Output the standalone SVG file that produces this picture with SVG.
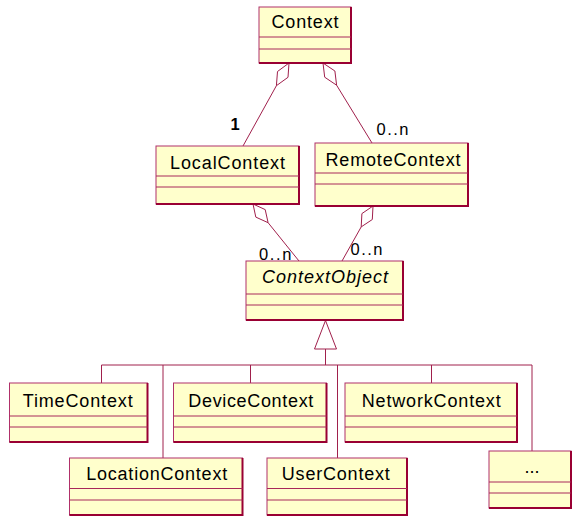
<svg xmlns="http://www.w3.org/2000/svg" width="572" height="516" viewBox="0 0 572 516">
<style>
.box{fill:#FFFFCC;stroke:#B0306A;stroke-width:1}
.sh{fill:none;stroke:#990033;stroke-width:2}
.sep{stroke:#A8285A;stroke-width:1}
.lbl{font-family:"Liberation Sans",Arial,sans-serif;font-size:18px;fill:#000;text-anchor:middle}
.it{font-style:italic}
.mul{font-family:"Liberation Sans",Arial,sans-serif;font-size:16.5px;fill:#000}
.ln{fill:none;stroke:#A0204C;stroke-width:1}
.dia{fill:#fff;stroke:#A0204C;stroke-width:1}
</style>
<rect width="572" height="516" fill="#fff"/>
<g id="connectors">
  <polygon class="dia" points="289,63 288,77.3 276.4,85.7 277.5,71.5"/>
  <line class="ln" x1="276.4" y1="85.7" x2="243" y2="146"/>
  <polygon class="dia" points="323,63 334.9,71 336.6,85.2 324.7,77.2"/>
  <line class="ln" x1="336.6" y1="85.2" x2="372" y2="143"/>
  <polygon class="dia" points="253,204 265.2,209.6 268.1,222.7 255.8,217.1"/>
  <line class="ln" x1="268.1" y1="222.7" x2="299" y2="261"/>
  <polygon class="dia" points="373,206 372.3,219.5 361.2,226.9 361.9,213.6"/>
  <line class="ln" x1="361.2" y1="226.9" x2="342" y2="261"/>
  <polygon class="dia" points="325.5,320.5 336.5,349 314.5,349"/>
  <line class="ln" x1="325.5" y1="349" x2="325.5" y2="365"/>
  <line class="ln" x1="101.5" y1="365" x2="532" y2="365"/>
  <line class="ln" x1="101.5" y1="365" x2="101.5" y2="383"/>
  <line class="ln" x1="163" y1="365" x2="163" y2="458"/>
  <line class="ln" x1="250.5" y1="365" x2="250.5" y2="383"/>
  <line class="ln" x1="337.5" y1="365" x2="337.5" y2="458"/>
  <line class="ln" x1="431.5" y1="365" x2="431.5" y2="383"/>
  <line class="ln" x1="532" y1="365" x2="532" y2="451"/>
  <text class="mul" x="230.5" y="130" font-weight="bold" font-size="17">1</text>
  <text class="mul" x="376.5" y="135" textLength="32" lengthAdjust="spacing">0..n</text>
  <text class="mul" x="259" y="260" textLength="32.5" lengthAdjust="spacing">0..n</text>
  <text class="mul" x="350.5" y="255" textLength="32" lengthAdjust="spacing">0..n</text>
</g>
<g id="Context">
  <rect class="box" x="259" y="7" width="92" height="56"/>
  <path class="sh" d="M351,7V63H259"/>
  <line class="sep" x1="259" y1="37" x2="351" y2="37"/><line class="sep" x1="259" y1="49" x2="351" y2="49"/>
  <text class="lbl" x="305" y="28" textLength="67" lengthAdjust="spacing">Context</text>
</g>
<g id="LocalContext">
  <rect class="box" x="156" y="146" width="143" height="58"/>
  <path class="sh" d="M299,146V204H156"/>
  <line class="sep" x1="156" y1="176" x2="299" y2="176"/><line class="sep" x1="156" y1="187" x2="299" y2="187"/>
  <text class="lbl" x="227.5" y="169" textLength="115" lengthAdjust="spacing">LocalContext</text>
</g>
<g id="RemoteContext">
  <rect class="box" x="315" y="143" width="153" height="63"/>
  <path class="sh" d="M468,143V206H315"/>
  <line class="sep" x1="315" y1="173" x2="468" y2="173"/><line class="sep" x1="315" y1="184" x2="468" y2="184"/>
  <text class="lbl" x="393" y="166" textLength="135" lengthAdjust="spacing">RemoteContext</text>
</g>
<g id="ContextObject">
  <rect class="box" x="246" y="261" width="157" height="59"/>
  <path class="sh" d="M403,261V320H246"/>
  <line class="sep" x1="246" y1="294" x2="403" y2="294"/><line class="sep" x1="246" y1="305" x2="403" y2="305"/>
  <text class="lbl it" x="325" y="283" textLength="126" lengthAdjust="spacing">ContextObject</text>
</g>
<g id="TimeContext">
  <rect class="box" x="9.5" y="383" width="138" height="59"/>
  <path class="sh" d="M147.5,383V442H9.5"/>
  <line class="sep" x1="9.5" y1="416" x2="147.5" y2="416"/><line class="sep" x1="9.5" y1="427" x2="147.5" y2="427"/>
  <text class="lbl" x="77.7" y="407" textLength="110" lengthAdjust="spacing">TimeContext</text>
</g>
<g id="DeviceContext">
  <rect class="box" x="173.5" y="383" width="153" height="59"/>
  <path class="sh" d="M326.5,383V442H173.5"/>
  <line class="sep" x1="173.5" y1="416" x2="326.5" y2="416"/><line class="sep" x1="173.5" y1="427" x2="326.5" y2="427"/>
  <text class="lbl" x="250.8" y="407" textLength="125" lengthAdjust="spacing">DeviceContext</text>
</g>
<g id="NetworkContext">
  <rect class="box" x="345" y="383" width="172" height="59"/>
  <path class="sh" d="M517,383V442H345"/>
  <line class="sep" x1="345" y1="416" x2="517" y2="416"/><line class="sep" x1="345" y1="427" x2="517" y2="427"/>
  <text class="lbl" x="431.2" y="407" textLength="139" lengthAdjust="spacing">NetworkContext</text>
</g>
<g id="LocationContext">
  <rect class="box" x="69.5" y="458" width="173" height="57"/>
  <path class="sh" d="M242.5,458V515H69.5"/>
  <line class="sep" x1="69.5" y1="488.5" x2="242.5" y2="488.5"/><line class="sep" x1="69.5" y1="500" x2="242.5" y2="500"/>
  <text class="lbl" x="156.7" y="480" textLength="141" lengthAdjust="spacing">LocationContext</text>
</g>
<g id="UserContext">
  <rect class="box" x="267" y="458" width="140" height="57"/>
  <path class="sh" d="M407,458V515H267"/>
  <line class="sep" x1="267" y1="488.5" x2="407" y2="488.5"/><line class="sep" x1="267" y1="500" x2="407" y2="500"/>
  <text class="lbl" x="335.8" y="480" textLength="108" lengthAdjust="spacing">UserContext</text>
</g>
<g id="More">
  <rect class="box" x="489" y="451" width="82" height="57"/>
  <path class="sh" d="M571,451V508H489"/>
  <line class="sep" x1="489" y1="482" x2="571" y2="482"/><line class="sep" x1="489" y1="493" x2="571" y2="493"/>
  <text class="lbl" x="532" y="473">...</text>
</g>
</svg>
